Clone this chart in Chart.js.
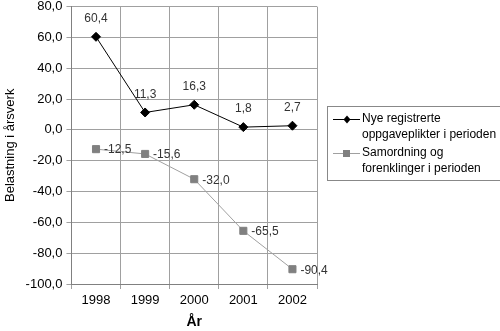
<!DOCTYPE html>
<html>
<head>
<meta charset="utf-8">
<script src="https://cdn.jsdelivr.net/npm/chart.js@4"></script>
<style>
  html, body { margin: 0; padding: 0; background: #fff; }
  #wrap { width: 500px; height: 331px; }
</style>
</head>
<body>
<div id="wrap"><canvas id="chart" width="500" height="331"></canvas></div>
<script>
// Data
const years = ['1998', '1999', '2000', '2001', '2002'];
const newDuties = [60.4, 11.3, 16.3, 1.8, 2.7];
const simplifications = [-12.5, -15.6, -32.0, -65.5, -90.4];
const seriesNames = [
  ['Nye registrerte', 'oppgaveplikter i perioden'],
  ['Samordning og', 'forenklinger i perioden'],
];

const FONT = 'Arial, "Liberation Sans", sans-serif';

function fmt(v) {
  return v.toFixed(1).replace('.', ',');
}

// Point labels: black series above, gray series to the right
const pointLabels = {
  id: 'pointLabels',
  afterDatasetsDraw(chart) {
    const ctx = chart.ctx;
    ctx.save();
    ctx.font = '12px ' + FONT;
    ctx.fillStyle = '#333';
    chart.data.datasets.forEach((ds, i) => {
      const meta = chart.getDatasetMeta(i);
      meta.data.forEach((pt, j) => {
        const txt = fmt(ds.data[j]);
        if (i === 0) {
          ctx.textAlign = 'center';
          ctx.textBaseline = 'bottom';
          ctx.fillText(txt, pt.x, pt.y - 12);
        } else {
          ctx.textAlign = 'left';
          ctx.textBaseline = 'middle';
          ctx.fillText(txt, pt.x + 8, pt.y + 1);
        }
      });
    });
    ctx.restore();
  },
};

// Legend box on the right with two-line labels
const sideLegend = {
  id: 'sideLegend',
  afterDraw(chart) {
    const ctx = chart.ctx;
    const x0 = 327, y0 = 106, w = 175, h = 74;
    ctx.save();
    ctx.strokeStyle = '#888';
    ctx.lineWidth = 1;
    ctx.strokeRect(x0 + 0.5, y0 + 0.5, w, h);
    ctx.font = '12px ' + FONT;
    ctx.textAlign = 'left';
    ctx.textBaseline = 'middle';
    chart.data.datasets.forEach((ds, i) => {
      const y = y0 + 13 + i * 34;
      ctx.strokeStyle = ds.borderColor;
      ctx.beginPath();
      ctx.moveTo(x0 + 6, y + 0.5);
      ctx.lineTo(x0 + 33, y + 0.5);
      ctx.stroke();
      ctx.fillStyle = ds.pointBackgroundColor;
      if (i === 0) {
        ctx.beginPath();
        ctx.moveTo(x0 + 20, y - 3.5);
        ctx.lineTo(x0 + 23.5, y + 0.5);
        ctx.lineTo(x0 + 20, y + 4.5);
        ctx.lineTo(x0 + 16.5, y + 0.5);
        ctx.closePath();
        ctx.fill();
      } else {
        ctx.fillRect(x0 + 16, y - 3, 7, 7);
      }
      ctx.fillStyle = '#000';
      seriesNames[i].forEach((line, k) => {
        ctx.fillText(line, x0 + 35, y + k * 16);
      });
    });
    ctx.restore();
  },
};

new Chart(document.getElementById('chart').getContext('2d'), {
  type: 'line',
  data: {
    labels: years,
    datasets: [
      {
        label: seriesNames[0].join(' '),
        data: newDuties,
        borderColor: '#000',
        borderWidth: 1,
        pointStyle: 'rectRot',
        pointRadius: 4.5,
        pointBackgroundColor: '#000',
        pointBorderColor: '#000',
        tension: 0,
      },
      {
        label: seriesNames[1].join(' '),
        data: simplifications,
        borderColor: '#a0a0a0',
        borderWidth: 1,
        pointStyle: 'rect',
        pointRadius: 5,
        pointBackgroundColor: '#808080',
        pointBorderColor: '#808080',
        tension: 0,
      },
    ],
  },
  options: {
    responsive: false,
    animation: false,
    layout: { padding: { top: 0, right: 183, bottom: 0, left: 0 } },
    plugins: {
      legend: { display: false },
      tooltip: { enabled: false },
    },
    scales: {
      x: {
        offset: true,
        grid: { offset: true, color: '#a0a0a0', tickLength: 5 },
        border: { color: '#808080' },
        ticks: { color: '#000', font: { family: FONT, size: 13 }, padding: 4 },
        title: {
          display: true,
          text: 'År',
          color: '#000',
          font: { family: FONT, size: 14, weight: 'bold' },
          padding: { top: 0, bottom: 0 },
        },
        afterFit(scale) {
          scale.height = 47;
        },
      },
      y: {
        min: -100,
        max: 80,
        grid: { color: '#a0a0a0', tickLength: 5 },
        border: { color: '#808080' },
        ticks: {
          stepSize: 20,
          color: '#000',
          font: { family: FONT, size: 13, lineHeight: 0.4 },
          padding: 4,
          callback: (v) => fmt(v),
        },
        title: {
          display: true,
          text: 'Belastning i årsverk',
          color: '#000',
          font: { family: FONT, size: 13 },
          padding: { top: 3, bottom: 3 },
        },
      },
    },
  },
  plugins: [pointLabels, sideLegend],
});
</script>
</body>
</html>
